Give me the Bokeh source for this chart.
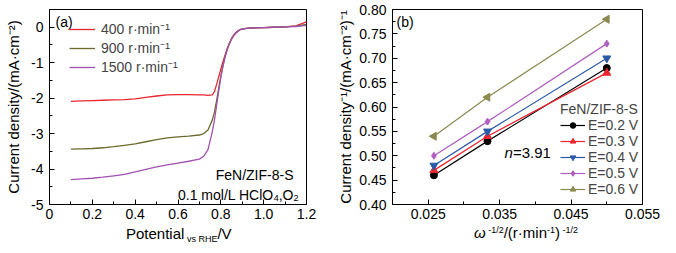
import math
from bokeh.plotting import figure
from bokeh.layouts import row, column
from bokeh.models import (Label, Legend, LegendItem, FixedTicker, Div,
                          CustomJSTickFormatter, Range1d)
from bokeh.embed import file_html
from bokeh.resources import INLINE

FONT = "Liberation Sans"

# ---------------- Panel (a): LSV curves ----------------
potential = [0.10, 0.15, 0.20, 0.25, 0.30, 0.35, 0.40, 0.45, 0.50, 0.55,
             0.60, 0.65, 0.70, 0.72, 0.74, 0.76, 0.77, 0.78, 0.79, 0.80,
             0.81, 0.82, 0.83, 0.84, 0.85, 0.86, 0.87, 0.88, 0.89, 0.90,
             0.92, 0.95, 1.00, 1.05, 1.10, 1.15, 1.20]
j_400 = [-2.09, -2.08, -2.07, -2.06, -2.05, -2.04, -2.02, -1.98, -1.94, -1.91,
         -1.90, -1.90, -1.91, -1.91, -1.92, -1.91, -1.82, -1.62, -1.40, -1.18,
         -0.97, -0.78, -0.60, -0.45, -0.32, -0.22, -0.15, -0.10, -0.07, -0.05,
         -0.03, -0.02, -0.01, 0.00, 0.01, 0.04, 0.15]
j_900 = [-3.44, -3.43, -3.42, -3.40, -3.37, -3.33, -3.29, -3.23, -3.17, -3.12,
         -3.09, -3.07, -3.04, -3.00, -2.90, -2.62, -2.40, -2.08, -1.72, -1.38,
         -1.08, -0.82, -0.62, -0.46, -0.33, -0.23, -0.16, -0.11, -0.07, -0.05,
         -0.03, -0.02, -0.01, 0.00, 0.01, 0.03, 0.08]
j_1500 = [-4.30, -4.28, -4.26, -4.23, -4.19, -4.15, -4.08, -4.01, -3.94, -3.88,
          -3.83, -3.78, -3.72, -3.64, -3.45, -2.95, -2.62, -2.22, -1.80, -1.42,
          -1.10, -0.84, -0.63, -0.47, -0.34, -0.24, -0.16, -0.11, -0.07, -0.05,
          -0.03, -0.02, -0.01, 0.00, 0.01, 0.02, 0.05]
rpm_labels = ["400 r·min⁻¹", "900 r·min⁻¹", "1500 r·min⁻¹"]
rpm_colors = ["#e8262d", "#6b6a2e", "#a052b0"]

a_xticks = [0.0, 0.2, 0.4, 0.6, 0.8, 1.0, 1.2]
a_xticklabels = ["0", "0.2", "0.4", "0.6", "0.8", "1.0", "1.2"]
a_yticks = [-5, -4, -3, -2, -1, 0]
a_yticklabels = ["-5", "-4", "-3", "-2", "-1", "0"]

# ---------------- Panel (b): K-L plots ----------------
omega_inv_sqrt = [0.0258, 0.0333, 0.0500]
inv_j_02 = [0.46, 0.53, 0.68]
inv_j_03 = [0.47, 0.54, 0.67]
inv_j_04 = [0.48, 0.55, 0.70]
inv_j_05 = [0.50, 0.57, 0.73]
inv_j_06 = [0.54, 0.62, 0.78]
e_labels = ["E=0.2 V", "E=0.3 V", "E=0.4 V", "E=0.5 V", "E=0.6 V"]
e_colors = ["#000000", "#e8262d", "#2a5aa8", "#b060c0", "#8a8a50"]
e_markers = ["circle", "triangle", "inverted_triangle", "diamond", "triangle"]

b_xticks = [0.025, 0.035, 0.045, 0.055]
b_xticklabels = ["0.025", "0.035", "0.045", "0.055"]
b_yticks = [0.40, 0.45, 0.50, 0.55, 0.60, 0.65, 0.70, 0.75, 0.80]
b_yticklabels = ["0.40", "0.45", "0.50", "0.55", "0.60", "0.65", "0.70", "0.75", "0.80"]

# Arial / Liberation Sans advance widths (per 1000 em)
W = {' ': 278, '(': 333, ')': 333, '-': 333, '.': 278, '/': 278, ',': 278,
     '=': 584, '·': 278, 'A': 667, 'C': 722, 'E': 667, 'F': 611,
     'H': 722, 'I': 278, 'L': 556, 'N': 722, 'O': 778, 'S': 667, 'Z': 611,
     'a': 556, 'c': 500, 'l': 222, 'm': 833, 'n': 556, 'o': 556}


def text_width(s, size):
    return sum(W.get(ch, 556) for ch in s) * size / 1000.0


def place_segments(fig, tx, ty, segs, base_px, start_px=None, end_px=None):
    total = sum(text_width(t, s) for t, s, _, _ in segs)
    x = start_px if start_px is not None else end_px - total
    for text, size, dy, style in segs:
        fig.add_layout(Label(x=tx(x), y=ty(base_px - dy), text=text,
                             text_font=FONT, text_font_size=f"{size}px",
                             text_font_style=style, text_align="left",
                             text_baseline="alphabetic", text_color="black"))
        x += text_width(text, size)


def tick_formatter(tvals, tlabs):
    return CustomJSTickFormatter(args=dict(tvals=tvals, tlabs=tlabs), code="""
        for (let i = 0; i < tvals.length; i++) {
            if (Math.abs(tvals[i] - tick) < 1e-9) return tlabs[i];
        }
        return '';
    """)


def style_axes(p):
    p.xgrid.visible = False
    p.ygrid.visible = False
    p.outline_line_color = "black"
    p.outline_line_width = 1
    p.background_fill_color = "white"
    p.border_fill_color = "white"
    for ax in p.axis:
        ax.axis_line_color = "black"
        ax.axis_line_width = 1
        ax.major_tick_in = 5
        ax.major_tick_out = 0
        ax.minor_tick_in = 3
        ax.minor_tick_out = 0
        ax.major_tick_line_color = "black"
        ax.minor_tick_line_color = "black"
        ax.major_label_text_font = FONT
        ax.major_label_text_font_size = "14px"
        ax.major_label_text_color = "black"
        ax.major_label_standoff = 6
        ax.axis_label_text_font = FONT
        ax.axis_label_text_font_size = "15px"
        ax.axis_label_text_font_style = "normal"
        ax.axis_label_text_color = "black"
    for ax in p.xaxis:
        ax.major_label_standoff = 4


FIG_H = 226

# ---------- figure (a) ----------
p1 = figure(width=334, height=FIG_H, x_range=Range1d(0, 1.2), y_range=Range1d(-5, 0.5),
            output_backend="svg", toolbar_location=None,
            min_border_left=49, min_border_right=28, min_border_top=9, min_border_bottom=22)
style_axes(p1)
p1.xaxis.ticker = FixedTicker(ticks=a_xticks, minor_ticks=[0.1, 0.3, 0.5, 0.7, 0.9, 1.1])
p1.xaxis.formatter = tick_formatter(a_xticks, a_xticklabels)
p1.yaxis.ticker = FixedTicker(ticks=a_yticks, minor_ticks=[-4.5, -3.5, -2.5, -1.5, -0.5])
p1.yaxis.formatter = tick_formatter(a_yticks, a_yticklabels)
p1.yaxis.axis_label = "Current density/(mA·cm⁻²)"
p1.yaxis.axis_label_standoff = 6

rs = []
for ys, c in zip([j_400, j_900, j_1500], rpm_colors):
    rs.append(p1.line(potential, ys, line_color=c, line_width=1.3))

leg1 = Legend(items=[LegendItem(label=l, renderers=[r]) for l, r in zip(rpm_labels, rs)],
              location=(20, 128), padding=0, margin=0, spacing=0,
              glyph_width=26, glyph_height=16, label_height=16, label_standoff=6,
              label_text_font=FONT, label_text_font_size="14px",
              border_line_alpha=0, background_fill_alpha=0)
p1.add_layout(leg1)

tx1 = lambda px: (px - 49) * 1.2 / 257.0
ty1 = lambda py: 0.5 - (py - 9) * 5.5 / 195.0

place_segments(p1, tx1, ty1, [("(a)", 14, 0, "normal")], 21, start_px=55)
place_segments(p1, tx1, ty1, [("FeN/ZIF-8-S", 14, 0, "normal")], 174, end_px=293)
place_segments(p1, tx1, ty1, [("0.1 mol/L HClO", 14, 0, "normal"), ("4", 9, -3, "normal"),
                              (",O", 14, 0, "normal"), ("2", 9, -3, "normal")], 194, end_px=298)

# ---------- figure (b) ----------
p2 = figure(width=342, height=FIG_H, x_range=Range1d(0.02, 0.055), y_range=Range1d(0.40, 0.80),
            output_backend="svg", toolbar_location=None,
            min_border_left=56, min_border_right=34, min_border_top=9, min_border_bottom=22)
style_axes(p2)
p2.xaxis.ticker = FixedTicker(ticks=b_xticks, minor_ticks=[0.02, 0.03, 0.04, 0.05])
p2.xaxis.formatter = tick_formatter(b_xticks, b_xticklabels)
p2.yaxis.ticker = FixedTicker(ticks=b_yticks, minor_ticks=[0.425, 0.475, 0.525, 0.575, 0.625, 0.675, 0.725, 0.775])
p2.yaxis.formatter = tick_formatter(b_yticks, b_yticklabels)
p2.yaxis.axis_label = "Current density⁻¹/(mA·cm⁻²)⁻¹"
p2.yaxis.axis_label_standoff = 2

items = []
series = [inv_j_02, inv_j_03, inv_j_04, inv_j_05, inv_j_06]
for ys, c, m, lab in zip(series, e_colors, e_markers, e_labels):
    rl = p2.line(omega_inv_sqrt, ys, line_color=c, line_width=1.2)
    angle = math.pi / 2 if lab.endswith("0.6 V") else 0
    rm = p2.scatter(omega_inv_sqrt, ys, marker=m, size=7 if m in ("circle", "diamond") else 8,
                    fill_color=c, line_color=c, angle=angle)
    items.append(LegendItem(label=lab, renderers=[rl, rm]))

leg2 = Legend(items=items, location=(168, 7), padding=0, margin=0, spacing=0,
              glyph_width=25, glyph_height=14, label_height=14, label_standoff=3,
              label_text_font=FONT, label_text_font_size="14px",
              title="FeN/ZIF-8-S", title_text_font=FONT, title_text_font_size="14px",
              title_text_font_style="normal", title_standoff=0,
              border_line_alpha=0, background_fill_alpha=0)
p2.add_layout(leg2)

tx2 = lambda px: 0.02 + (px - 390) * 0.035 / 252.0
ty2 = lambda py: 0.80 - (py - 9) * 0.40 / 195.0

place_segments(p2, tx2, ty2, [("(b)", 14, 0, "normal")], 21, start_px=394)
place_segments(p2, tx2, ty2, [("n", 15, 0, "italic"), ("=3.91", 15, 0, "normal")], 152, start_px=503)

# ---------- x-axis titles (HTML text, with sub/superscripts) ----------
BASE = ("font-family:'Liberation Sans',Arial,sans-serif;font-size:15px;color:#000;"
        "white-space:nowrap;line-height:15px;")
SUB = "font-size:9px;position:relative;top:3px;"
SUP = "font-size:9px;position:relative;top:-5px;"

xlabel_a_html = (f"<div style=\"{BASE}padding-left:126px;padding-top:0px\">Potential"
                 f"<span style=\"{SUB}\"> vs RHE</span>/V</div>")
xlabel_b_html = (f"<div style=\"{BASE}padding-left:140px;padding-top:0px;line-height:12px\">"
                 f"<span style=\"font-style:italic\">ω</span>"
                 f"<span style=\"{SUP}\"> -1/2</span>/(r·min"
                 f"<span style=\"{SUP}\">-1</span>)"
                 f"<span style=\"{SUP}\"> -1/2</span></div>")

div_a = Div(text=xlabel_a_html, width=334, height=253 - FIG_H, margin=0)
div_b = Div(text=xlabel_b_html, width=342, height=253 - FIG_H, margin=0)

layout = column(row(p1, p2, spacing=0), row(div_a, div_b, spacing=0), spacing=0)
with open("out.html", "w") as f:
    f.write(file_html(layout, INLINE))
